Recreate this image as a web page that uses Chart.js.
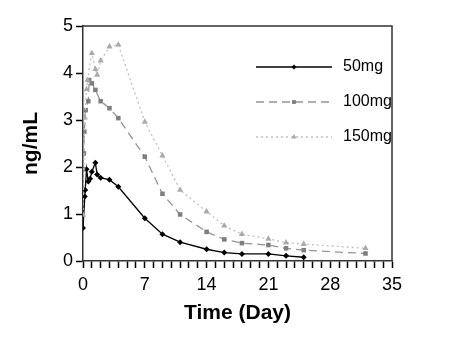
<!DOCTYPE html>
<html>
<head>
<meta charset="utf-8">
<script src="https://cdn.jsdelivr.net/npm/chart.js@4.4.0/dist/chart.umd.min.js"></script>
<style>
  html, body { margin: 0; padding: 0; background: #fff; }
  #wrap { width: 460px; height: 344px; }
</style>
</head>
<body>
<div id="wrap"><canvas id="myChart" width="460" height="344"></canvas></div>
<script>
// ---------------- datos ----------------
var series_names = ['50mg', '100mg', '150mg'];

var t_50 = [0, 0.2, 0.25, 0.4, 0.6, 0.8, 1, 1.4, 1.6, 2, 3, 4, 7, 9, 11, 14, 16, 18, 21, 23, 25];
var c_50 = [0.70, 1.37, 1.51, 1.95, 1.69, 1.75, 1.90, 2.09, 1.84, 1.77, 1.73, 1.58, 0.91, 0.57, 0.40, 0.25, 0.18, 0.15, 0.15, 0.11, 0.08];

var t_100 = [0, 0.1, 0.15, 0.3, 0.6, 0.7, 1, 1.4, 2, 3, 4, 7, 9, 11, 14, 16, 18, 21, 23, 25, 32];
var c_100 = [1.95, 2.29, 2.75, 3.21, 3.40, 3.85, 3.78, 3.64, 3.40, 3.25, 3.04, 2.22, 1.43, 0.99, 0.62, 0.46, 0.38, 0.34, 0.27, 0.23, 0.16];

var t_150 = [0, 0.2, 0.4, 0.5, 1, 1.4, 1.6, 2, 3, 4, 7, 9, 11, 14, 16, 18, 21, 23, 25, 32];
var c_150 = [0.98, 3.05, 3.65, 3.85, 4.42, 4.08, 3.96, 4.26, 4.56, 4.60, 2.96, 2.24, 1.51, 1.05, 0.75, 0.57, 0.47, 0.39, 0.36, 0.27];

var x_ticks = [0, 7, 14, 21, 28, 35];
var y_ticks = [0, 1, 2, 3, 4, 5];

// ---------------- estilos ----------------
var estilos = [
    { color: '#000000', marker: '#000000', dash: [], pointStyle: 'rectRot', radius: 3 },
    { color: '#959595', marker: '#7e7e7e', dash: [8, 5], pointStyle: 'rect', radius: 3.2 },
    { color: '#c0c0c0', marker: '#aaaaaa', dash: [2, 3], pointStyle: 'triangle', radius: 3.6 }
];

function puntos(t, c) {
    var arr = [];
    for (var i = 0; i < t.length; i++) arr.push({ x: t[i], y: c[i] });
    return arr;
}

var all_t = [t_50, t_100, t_150];
var all_c = [c_50, c_100, c_150];
var datasets = [];
for (var s = 0; s < 3; s++) {
    var e = estilos[s];
    datasets.push({
        label: series_names[s],
        data: puntos(all_t[s], all_c[s]),
        showLine: true,
        borderColor: e.color,
        borderWidth: 1.3,
        borderDash: e.dash,
        backgroundColor: e.marker,
        pointBackgroundColor: e.marker,
        pointBorderColor: e.marker,
        pointBorderWidth: 0,
        pointStyle: e.pointStyle,
        pointRadius: e.radius,
        tension: 0
    });
}
// dibujar 50mg encima
datasets.reverse();

var FONT = "'Liberation Sans', Arial, sans-serif";

// marco superior/derecho y leyenda
var marco = {
    id: 'marco',
    afterDraw: function (chart) {
        var ctx = chart.ctx;
        var a = chart.chartArea;
        ctx.save();
        ctx.setLineDash([]);
        ctx.strokeStyle = '#333';
        ctx.lineWidth = 1.5;
        ctx.beginPath();
        ctx.moveTo(a.left, a.top);
        ctx.lineTo(a.right, a.top);
        ctx.lineTo(a.right, a.bottom);
        ctx.stroke();

        var filas = [67, 102, 137];
        for (var s = 0; s < 3; s++) {
            var e = estilos[s];
            var y = filas[s];
            ctx.strokeStyle = e.color;
            ctx.lineWidth = 1.3;
            ctx.setLineDash(e.dash);
            ctx.beginPath();
            ctx.moveTo(256, y);
            ctx.lineTo(332, y);
            ctx.stroke();
            ctx.setLineDash([]);
            ctx.fillStyle = e.marker;
            Chart.helpers.drawPoint(ctx, {
                pointStyle: e.pointStyle, radius: e.radius * 0.85, borderWidth: 0
            }, 294, y);
            ctx.fillStyle = '#000';
            ctx.font = '16px ' + FONT;
            ctx.textBaseline = 'middle';
            ctx.textAlign = 'left';
            ctx.fillText(series_names[s], 343, y);
        }
        ctx.restore();
    }
};

var ctx = document.getElementById('myChart').getContext('2d');
var myChart = new Chart(ctx, {
    type: 'scatter',
    data: { datasets: datasets },
    options: {
        responsive: false,
        animation: false,
        layout: { padding: { left: 19, right: 68, top: 26, bottom: 18 } },
        plugins: {
            legend: { display: false },
            tooltip: { enabled: false }
        },
        scales: {
            x: {
                type: 'linear',
                min: 0, max: 35,
                // una marca por dia, etiqueta cada 7
                afterBuildTicks: function (scale) {
                    var tk = [];
                    for (var v = 0; v <= 35; v++) tk.push({ value: v });
                    scale.ticks = tk;
                },
                afterFit: function (scale) { scale.height = 65; },
                ticks: {
                    autoSkip: false,
                    maxRotation: 0,
                    color: '#000',
                    padding: 6,
                    font: { family: FONT, size: 18 },
                    callback: function (v) { return x_ticks.indexOf(v) >= 0 ? String(v) : ''; }
                },
                grid: {
                    display: true,
                    drawOnChartArea: false,
                    drawTicks: true,
                    tickLength: 7,
                    tickColor: '#000',
                    tickWidth: 1.5,
                    color: '#000'
                },
                border: { color: '#333', width: 1.5 },
                title: {
                    display: true,
                    text: 'Time (Day)',
                    color: '#000',
                    font: { family: FONT, size: 21, weight: 'bold' },
                    padding: { top: 0, bottom: 0 }
                }
            },
            y: {
                min: 0, max: 5,
                afterBuildTicks: function (scale) {
                    scale.ticks = y_ticks.map(function (v) { return { value: v }; });
                },
                afterFit: function (scale) { scale.width = 64; },
                ticks: {
                    color: '#000',
                    padding: 3,
                    font: { family: FONT, size: 18 }
                },
                grid: {
                    display: true,
                    drawOnChartArea: false,
                    drawTicks: true,
                    tickLength: 7,
                    tickColor: '#000',
                    tickWidth: 1.5,
                    color: '#000'
                },
                border: { color: '#333', width: 1.5 },
                title: {
                    display: true,
                    text: 'ng/mL',
                    color: '#000',
                    font: { family: FONT, size: 21, weight: 'bold' },
                    padding: { top: 0, bottom: 0 }
                }
            }
        }
    },
    plugins: [marco]
});
</script>
</body>
</html>
